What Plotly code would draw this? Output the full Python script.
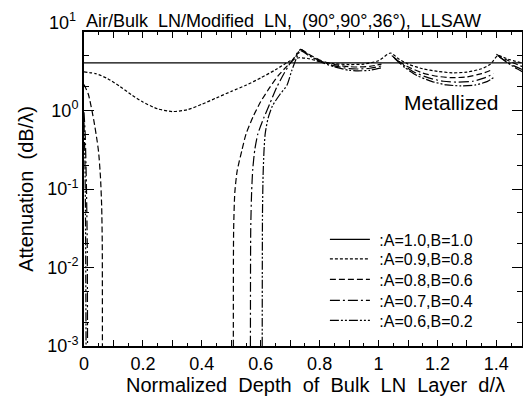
import plotly.graph_objects as go

FONT = "Liberation Sans, Arial, Helvetica, sans-serif"

series_names = [":A=1.0,B=1.0", ":A=0.9,B=0.8", ":A=0.8,B=0.6", ":A=0.7,B=0.4", ":A=0.6,B=0.2"]

# A=1.0, B=1.0 (homogeneous)
d_10 = [0.0, 1.49]
att_10 = [4.05, 4.05]

# A=0.9, B=0.8
d_09 = [0.0, 0.04, 0.08, 0.12, 0.16, 0.20, 0.25, 0.30, 0.35, 0.40, 0.45, 0.50, 0.55, 0.60, 0.65, 0.70,
        0.73, 0.76, 0.80, 0.85, 0.90, 0.95, 1.00, 1.04,
        1.07, 1.10, 1.15, 1.20, 1.25, 1.30, 1.35, 1.38, 1.405, 1.44, 1.49]
att_09 = [3.1, 2.95, 2.55, 2.05, 1.6, 1.28, 1.05, 0.97, 1.02, 1.2, 1.45, 1.75, 2.1, 2.6, 3.3, 4.3,
          4.7, 4.6, 4.2, 3.95, 3.85, 3.9, 4.3, 5.4,
          4.5, 3.9, 3.4, 3.15, 3.02, 3.08, 3.4, 3.9, 5.0, 4.5, 4.0]

# A=0.8, B=0.6 (segments separated by None)
d_08 = [0.0, 0.015, 0.033, 0.045, 0.05, 0.056, 0.06, 0.062, 0.0625, None,
        0.507, 0.508, 0.512, 0.52, 0.536, 0.55, 0.575, 0.60, 0.632, 0.66, 0.69, 0.715, 0.735,
        0.76, 0.80, 0.85, 0.90, 0.93, 0.97, 1.01, None,
        1.045, 1.07, 1.10, 1.15, 1.20, 1.25, 1.30, 1.35, 1.39, None,
        1.40, 1.43, 1.46, 1.49]
att_08 = [2.15, 1.6, 0.76, 0.4, 0.285, 0.14, 0.06, 0.02, 0.001, None,
          0.001, 0.03, 0.09, 0.17, 0.31, 0.5, 0.85, 1.3, 2.0, 2.8, 3.7, 4.6, 6.0,
          5.3, 4.4, 3.85, 3.62, 3.58, 3.65, 3.9, None,
          5.0, 4.2, 3.6, 3.0, 2.72, 2.62, 2.68, 2.95, 3.35, None,
          5.2, 4.5, 4.0, 3.6]

# A=0.7, B=0.4
d_07 = [0.0, 0.004, 0.008, 0.011, 0.012, None,
        0.565, 0.566, 0.569, 0.573, 0.58, 0.59, 0.61, 0.63, 0.655, 0.68, 0.70, 0.715, 0.735,
        0.76, 0.80, 0.85, 0.90, 0.93, 0.97, 1.01, None,
        1.05, 1.08, 1.12, 1.17, 1.22, 1.27, 1.32, 1.36, 1.39, None,
        1.405, 1.43, 1.46, 1.49]
att_07 = [0.95, 0.5, 0.12, 0.02, 0.001, None,
          0.001, 0.03, 0.09, 0.18, 0.32, 0.5, 0.8, 1.2, 2.0, 3.0, 4.0, 4.8, 6.0,
          5.2, 4.3, 3.7, 3.42, 3.38, 3.45, 3.7, None,
          4.8, 3.9, 3.1, 2.6, 2.36, 2.3, 2.36, 2.6, 2.95, None,
          5.0, 4.3, 3.7, 3.3]

# A=0.6, B=0.2
d_06 = [0.0, 0.003, 0.005, 0.007, None,
        0.605, 0.606, 0.608, 0.611, 0.615, 0.625, 0.64, 0.665, 0.689, 0.705, 0.72, 0.735,
        0.76, 0.80, 0.85, 0.90, 0.93, 0.97, 1.01, None,
        1.055, 1.09, 1.13, 1.18, 1.23, 1.28, 1.33, 1.37, 1.395, None,
        1.41, 1.44, 1.47, 1.49]
att_06 = [0.7, 0.25, 0.05, 0.001, None,
          0.001, 0.05, 0.15, 0.3, 0.5, 0.8, 1.15, 1.6, 2.1, 3.2, 4.5, 5.8,
          5.1, 4.2, 3.6, 3.25, 3.2, 3.25, 3.5, None,
          4.6, 3.5, 2.8, 2.35, 2.12, 2.06, 2.12, 2.35, 2.7, None,
          4.8, 4.0, 3.4, 3.1]

series_d = [d_10, d_09, d_08, d_07, d_06]
series_att = [att_10, att_09, att_08, att_07, att_06]
dashes = ["solid", "3px,2px", "6px,3px", "10px,3px,2px,3px", "9px,2px,2px,2px,2px,2px"]
legend_ids = ["legend", "legend2", "legend3", "legend4", "legend5"]
legend_y = [0.339, 0.277, 0.212, 0.145, 0.081]

x_tickvals = [0.0, 0.1, 0.2, 0.3, 0.4, 0.5, 0.6, 0.7, 0.8, 0.9, 1.0, 1.1, 1.2, 1.3, 1.4]
x_ticktext = ["0", "", "0.2", "", "0.4", "", "0.6", "", "0.8", "", "1", "", "1.2", "", "1.4"]
y_tickvals = [0.001, 0.01, 0.1, 1, 10]
y_ticktext = ["10<sup>-3</sup>", "10<sup>-2</sup>", "10<sup>-1</sup>", "10<sup>0</sup>", ""]
y_minorvals = [0.002, 0.005, 0.02, 0.05, 0.2, 0.5, 2, 5]

fig = go.Figure()
for name, xs, ys, dash, lg in zip(series_names, series_d, series_att, dashes, legend_ids):
    fig.add_trace(go.Scatter(
        x=xs, y=ys, mode="lines", name="\u00a0" + name, legend=lg,
        line=dict(color="black", width=1.2, dash=dash, shape="spline", smoothing=0.6),
        connectgaps=False,
    ))

legend_common = dict(x=0.55, xanchor="left", yanchor="middle",
                     bgcolor="rgba(0,0,0,0)", borderwidth=0,
                     font=dict(family=FONT, size=16), itemwidth=40)
legends = {}
for lg, ly in zip(legend_ids, legend_y):
    legends[lg] = dict(legend_common, y=ly)

# the page body adds an 8px offset, so the figure is 8px smaller and margins shifted
fig.update_layout(
    width=523, height=388,
    margin=dict(l=76, r=9, t=24, b=50, autoexpand=False),
    paper_bgcolor="white", plot_bgcolor="white",
    font=dict(family=FONT, color="black", size=16),
    showlegend=True,
    xaxis=dict(range=[0, 1.487], tickmode="array", tickvals=x_tickvals, ticktext=x_ticktext,
               ticks="inside", ticklen=6, tickwidth=1, tickcolor="black",
               showline=True, linewidth=2, linecolor="black", mirror="allticks",
               showgrid=False, zeroline=False, tickfont=dict(size=18), automargin=False,
               minor=dict(dtick=0.05, tick0=0, ticks="inside", ticklen=3, tickwidth=1,
                          tickcolor="black", showgrid=False)),
    yaxis=dict(type="log", range=[-3, 1], tickmode="array", tickvals=y_tickvals, ticktext=y_ticktext,
               ticks="inside", ticklen=10, tickwidth=1, tickcolor="black",
               showline=True, linewidth=2, linecolor="black", mirror="allticks",
               showgrid=False, zeroline=False, tickfont=dict(size=18), automargin=False,
               title=dict(text="Attenuation\u00a0 (dB/\u03bb)", font=dict(size=20), standoff=8),
               minor=dict(tickmode="array", tickvals=y_minorvals, ticks="inside", ticklen=5,
                          tickwidth=1, tickcolor="black", showgrid=False)),
    **legends,
)

fig.add_annotation(text="Air/Bulk\u00a0 LN/Modified\u00a0 LN,\u00a0 (90\u00b0,90\u00b0,36\u00b0),\u00a0 LLSAW",
                   xref="paper", yref="paper", x=0, y=1.035, xanchor="left", yanchor="middle",
                   showarrow=False, font=dict(size=18))
fig.add_annotation(text="Normalized\u00a0 Depth\u00a0 of\u00a0 Bulk\u00a0 LN\u00a0 Layer\u00a0 d/\u03bb",
                   xref="paper", yref="paper", x=0.528, y=-0.124, xanchor="center", yanchor="middle",
                   showarrow=False, font=dict(size=20))
fig.add_annotation(text="10<sup>1</sup>", xref="paper", yref="paper", x=0, y=1.032,
                   xanchor="right", yanchor="middle", xshift=-6, showarrow=False, font=dict(size=18))
fig.add_annotation(text="Metallized", xref="x", yref="y", x=1.247, y=0.108,
                   xanchor="center", yanchor="middle", showarrow=False, font=dict(size=21))

fig.write_html("out.html")
